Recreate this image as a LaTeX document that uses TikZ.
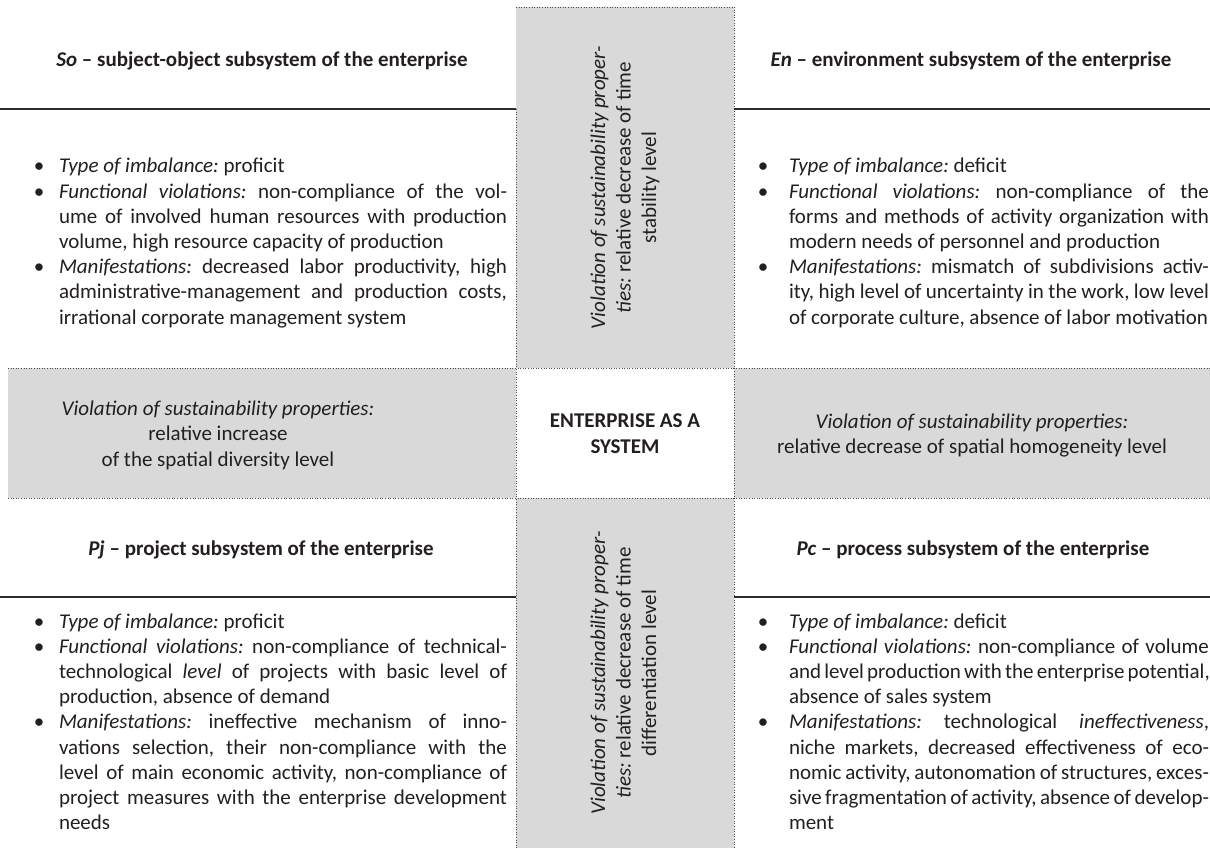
\documentclass[tikz,border=0pt]{standalone}
\usepackage{fontspec}
\setmainfont{Carlito}
\definecolor{ink}{HTML}{231F20}
\definecolor{cellgray}{HTML}{D9D9D9}
\definecolor{dotc}{HTML}{4D4D4D}
\definecolor{rulec}{HTML}{2B2B2B}
\newlength\tw
\newlength\bind
\hbadness=10000 \hfuzz=60pt
\frenchspacing
\newcommand\bul{\llap{\hbox to 0pt{\hss\textbullet\hss}\hskip\bind}}
\newcommand\bj[1]{\hbox{\bul\hbox to\tw{#1}}}
\newcommand\bn[1]{\hbox{\bul\hbox to\tw{#1\hfil}}}
\newcommand\cj[1]{\hbox{\hbox to\tw{#1}}}
\newcommand\cn[1]{\hbox{\hbox to\tw{#1\hfil}}}
\newcommand\cl[1]{\hbox to 0pt{\hss#1\hss}}
\newcommand\blk[4]{\vtop{\frenchspacing\setlength\tw{#1}\setlength\bind{#2}\baselineskip=#3\relax\lineskiplimit=-100pt\lineskip=0pt\relax#4}}
\tikzset{
  txt/.style={inner sep=0pt, outer sep=0pt, text=ink, font=\fontsize{21}{25.2}\selectfont},
  head/.style={txt, anchor=base, font=\fontsize{21}{25.2}\selectfont\bfseries},
  listbox/.style={txt, anchor=base west},
  ctext/.style={txt, anchor=base},
  graycell/.style={fill=cellgray, draw=none},
  dotline/.style={draw=dotc, line width=0.8pt, dash pattern=on 0.8pt off 1.8pt},
  thickrule/.style={draw=rulec, line width=2pt}
}
\begin{document}
\begin{tikzpicture}[x=1pt, y=-1pt]
\useasboundingbox (0,0) rectangle (1210,850);
\fill[white] (0,0) rectangle (1210,850);
% gray cells
\fill[graycell] (516,7) rectangle (734,368);
\fill[graycell] (516,498) rectangle (734,848);
\fill[graycell] (8,368) rectangle (516,498);
\fill[graycell] (734,368) rectangle (1210,498);
% dotted borders
\draw[dotline] (516,7) -- (734,7);
\draw[dotline] (8,368) -- (1210,368);
\draw[dotline] (8,498) -- (1210,498);
\draw[dotline] (516,109) -- (516,848);
\draw[dotline] (734,7) -- (734,848);
% thick rules
\draw[thickrule] (0,109) -- (516,109);
\draw[thickrule] (734,109) -- (1210,109);
\draw[thickrule] (0,597) -- (516,597);
\draw[thickrule] (734,597) -- (1210,597);
% headings
\node[head] (soHead) at (262,67) {\textit{So} – subject-object subsystem of the enterprise};
\node[head] (enHead) at (971,67) {\textit{En} – environment subsystem of the enterprise};
\node[head] (pjHead) at (261,555) {\textit{Pj} – project subsystem of the enterprise};
\node[head] (pcHead) at (973,555) {\textit{Pc} – process subsystem of the enterprise};
% lists
\node[listbox] (soList) at (59,173) {\blk{448pt}{20pt}{25.2pt}{%
\bn{\textit{Type of imbalance:} proficit}
\bj{\textit{Functional violations:} non-compliance of the vol-}
\cj{ume of involved human resources with production}
\cn{volume, high resource capacity of production}
\bj{\textit{Manifestations:} decreased labor productivity, high}
\cj{administrative-management and production costs,}
\cn{irrational corporate management system}}};
\node[listbox] (enList) at (789,173) {\blk{420pt}{26pt}{25.2pt}{%
\bn{\textit{Type of imbalance:} deficit}
\bj{\textit{Functional violations:} non-compliance of the}
\cj{forms and methods of activity organization with}
\cn{modern needs of personnel and production}
\bj{\textit{Manifestations:} mismatch of subdivisions activ-}
\cj{ity, high level of uncertainty in the work, low level}
\cn{of corporate culture, absence of labor motivation}}};
\node[listbox] (pjList) at (59,628) {\blk{448pt}{20pt}{25.2pt}{%
\bn{\textit{Type of imbalance:} proficit}
\bj{\textit{Functional violations:} non-compliance of technical-}
\cj{technological \textit{level} of projects with basic level of}
\cn{production, absence of demand}
\bj{\textit{Manifestations:} ineffective mechanism of inno-}
\cj{vations selection, their non-compliance with the}
\cj{level of main economic activity, non-compliance of}
\cj{project measures with the enterprise development}
\cn{needs}}};
\node[listbox] (pcList) at (789,628) {\blk{420pt}{26pt}{25.2pt}{%
\bn{\textit{Type of imbalance:} deficit}
\bj{\textit{Functional violations:} non-compliance of volume}
\cj{and level production with the enterprise potential,}
\cn{absence of sales system}
\bj{\textit{Manifestations:} technological \textit{ineffectiveness},}
\cj{niche markets, decreased effectiveness of eco-}
\cj{nomic activity, autonomation of structures, exces-}
\cj{sive fragmentation of activity, absence of develop-}
\cn{ment}}};
% bands
\node[ctext] (leftBand) at (218,415) {\blk{0pt}{0pt}{25.5pt}{%
\cl{\textit{Violation of sustainability properties:}}
\cl{relative increase}
\cl{of the spatial diversity level}}};
\node[ctext] (rightBand) at (972,428) {\blk{0pt}{0pt}{25.5pt}{%
\cl{\textit{Violation of sustainability properties:}}
\cl{relative decrease of spatial homogeneity level}}};
% centre
\node[ctext, font=\fontsize{21}{25.2}\selectfont\bfseries] (centre) at (625,427) {\blk{0pt}{0pt}{26pt}{%
\cl{ENTERPRISE AS A}
\cl{SYSTEM}}};
% rotated columns
\node[ctext, rotate=90] (topCol) at (605,187.5) {\blk{0pt}{0pt}{25.5pt}{%
\cl{\textit{Violation of sustainability proper-}}
\cl{\textit{ties:} relative decrease of time}
\cl{stability level}}};
\node[ctext, rotate=90] (botCol) at (605,673) {\blk{0pt}{0pt}{25.5pt}{%
\cl{\textit{Violation of sustainability proper-}}
\cl{\textit{ties:} relative decrease of time}
\cl{differentiation level}}};
\end{tikzpicture}
\end{document}
